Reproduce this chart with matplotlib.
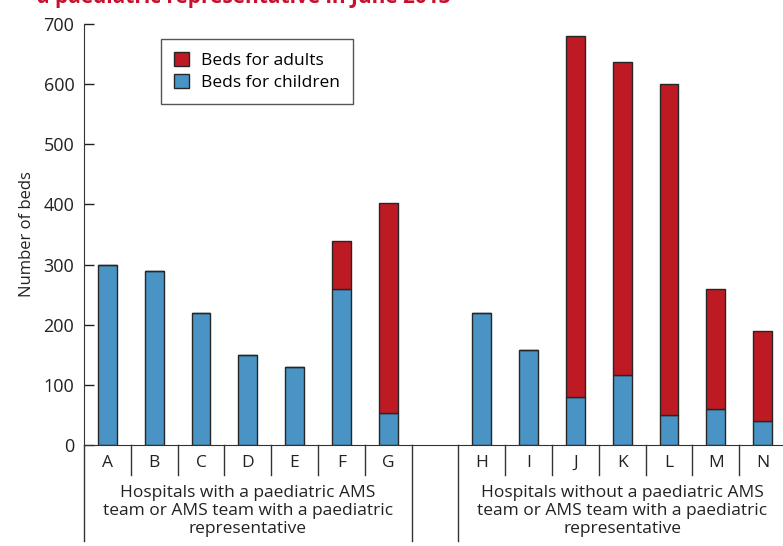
import matplotlib.pyplot as plt
from matplotlib.patches import Patch

plt.rcParams['font.family'] = ['Open Sans', 'DejaVu Sans']

hospitals = ["A", "B", "C", "D", "E", "F", "G", "H", "I", "J", "K", "L", "M", "N"]
children = [300, 290, 220, 150, 130, 260, 53, 220, 158, 80, 117, 50, 60, 40]
adults = [0, 0, 0, 0, 0, 80, 350, 0, 0, 600, 520, 550, 200, 150]
group_labels = ["Hospitals with a paediatric AMS\nteam or AMS team with a paediatric\nrepresentative",
                "Hospitals without a paediatric AMS\nteam or AMS team with a paediatric\nrepresentative"]

red = "#BE1A23"
blue = "#4A94C5"
edge = "#262626"
txt = "#222222"

# slot 7 left empty between the two groups
xpos = [i if i < 7 else i + 1 for i in range(len(hospitals))]

fig = plt.figure(figsize=(7.83, 5.46), dpi=100)
ax = fig.add_axes([84 / 783, 101 / 546, 702 / 783, 421 / 546])

ax.bar(xpos, children, width=0.4, color=blue, edgecolor=edge, linewidth=1)
ax.bar(xpos, adults, width=0.4, bottom=children, color=red, edgecolor=edge, linewidth=1)

ax.set_xlim(-0.5, 14.5)
ax.set_ylim(0, 700)
ax.set_yticks(range(0, 701, 100))
ax.set_xticks([])
ax.tick_params(axis='y', direction='in', length=7, width=1, labelsize=13, pad=7, colors=txt)
for s in ["top", "right"]:
    ax.spines[s].set_visible(False)
ax.spines["left"].set_color("#333333")
ax.spines["bottom"].set_color("#333333")
ax.set_ylabel("Number of beds", fontsize=12, color=txt, labelpad=6)

# category labels and separators under the axis
tr = ax.get_xaxis_transform()
for x, name in zip(xpos, hospitals):
    ax.text(x, -0.043, name, transform=tr, ha="center", va="center", fontsize=12.5, color=txt)
for x in xpos:
    if x in (6, 14):
        continue
    ax.plot([x + 0.5, x + 0.5], [0, -0.071], transform=tr, color="#333333", lw=1, clip_on=False)
for x in (-0.5, 6.5, 7.5):
    ax.plot([x, x], [0, -0.228], transform=tr, color="#333333", lw=1, clip_on=False)
for cx, lab in zip((3, 11), group_labels):
    ax.text(cx, -0.157, lab, transform=tr, ha="center", va="center",
            fontsize=12.5, color=txt, linespacing=1.15)

handles = [Patch(facecolor=red, edgecolor=edge, label="Beds for adults"),
           Patch(facecolor=blue, edgecolor=edge, label="Beds for children")]
leg = ax.legend(handles=handles, loc="upper left", bbox_to_anchor=(0.11, 0.965),
                fontsize=12.5, fancybox=False, edgecolor="#555555", handlelength=0.85,
                handleheight=0.85, handletextpad=0.7, borderpad=0.75, labelspacing=0.3,
                borderaxespad=0, framealpha=1)
leg.get_frame().set_linewidth(1)

fig.text(37 / 783, 1 - 3 / 546, "a paediatric representative in June 2013", ha="left",
         va="baseline", fontsize=15, fontweight="bold", color="#C8102E")

fig.savefig("out.png", dpi=100)
